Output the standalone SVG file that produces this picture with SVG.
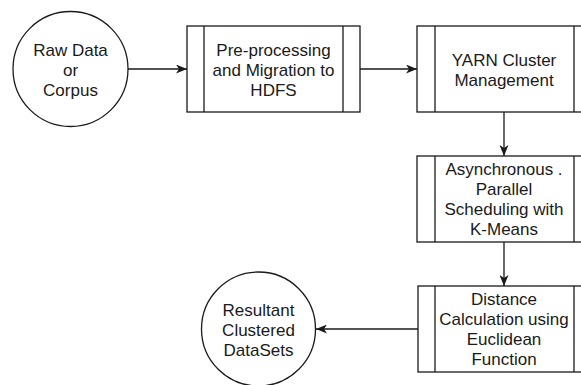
<svg xmlns="http://www.w3.org/2000/svg" width="581" height="385" viewBox="0 0 581 385">
<style>
.shape{fill:#fff;stroke:#1a1a1a;stroke-width:1.3}
.line{fill:none;stroke:#1a1a1a;stroke-width:1.3}
text{font-family:"Liberation Sans",Arial,sans-serif;font-size:17px;fill:#1a1a1a;text-anchor:middle}
</style>
<defs>
<marker id="arr" viewBox="0 0 11 9" refX="11" refY="4.5" markerWidth="11" markerHeight="9" markerUnits="userSpaceOnUse" orient="auto">
<path d="M0,0 L11,4.5 L0,9 L3,4.5 Z" fill="#1a1a1a"/>
</marker>
</defs>
<rect width="581" height="385" fill="#fff"/>
<g id="connectors">
<line class="line" x1="128" y1="69" x2="187" y2="69" marker-end="url(#arr)"/>
<line class="line" x1="360" y1="69" x2="417" y2="69" marker-end="url(#arr)"/>
<line class="line" x1="504" y1="112" x2="504" y2="156" marker-end="url(#arr)"/>
<line class="line" x1="504" y1="242" x2="504" y2="286" marker-end="url(#arr)"/>
<line class="line" x1="418" y1="329" x2="316" y2="329" marker-end="url(#arr)"/>
</g>
<g id="raw-data">
<circle class="shape" cx="70.5" cy="69" r="57.5"/>
<text x="70.5" y="56">Raw Data</text>
<text x="70.5" y="76">or</text>
<text x="70.5" y="96">Corpus</text>
</g>
<g id="preprocessing">
<rect class="shape" x="187" y="26" width="173" height="86"/>
<line class="line" x1="204" y1="26" x2="204" y2="112"/>
<line class="line" x1="343" y1="26" x2="343" y2="112"/>
<text x="273.5" y="55.5">Pre-processing</text>
<text x="273.5" y="75.5">and Migration to</text>
<text x="273.5" y="95.5">HDFS</text>
</g>
<g id="yarn">
<rect class="shape" x="417" y="26" width="174" height="86"/>
<line class="line" x1="435" y1="26" x2="435" y2="112"/>
<line class="line" x1="574" y1="26" x2="574" y2="112"/>
<text x="504" y="65.5">YARN Cluster</text>
<text x="504" y="85.5">Management</text>
</g>
<g id="scheduling">
<rect class="shape" x="417" y="156" width="174" height="86"/>
<line class="line" x1="435" y1="156" x2="435" y2="242"/>
<line class="line" x1="574" y1="156" x2="574" y2="242"/>
<text x="504" y="175">Asynchronous .</text>
<text x="504" y="195">Parallel</text>
<text x="504" y="215">Scheduling with</text>
<text x="504" y="235">K-Means</text>
</g>
<g id="distance">
<rect class="shape" x="418" y="286" width="173" height="86"/>
<line class="line" x1="435" y1="286" x2="435" y2="372"/>
<line class="line" x1="574" y1="286" x2="574" y2="372"/>
<text x="504" y="305">Distance</text>
<text x="504" y="325">Calculation using</text>
<text x="504" y="345">Euclidean</text>
<text x="504" y="365">Function</text>
</g>
<g id="result">
<circle class="shape" cx="258.5" cy="329" r="57"/>
<text x="258.5" y="315.5">Resultant</text>
<text x="258.5" y="335.5">Clustered</text>
<text x="258.5" y="355.5">DataSets</text>
</g>
</svg>
